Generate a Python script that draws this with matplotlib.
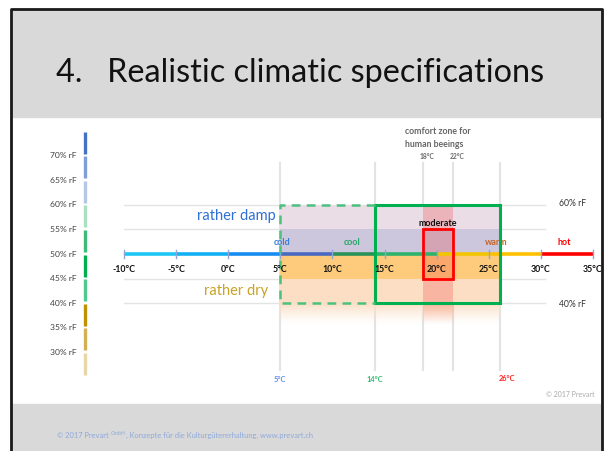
import numpy as np
import matplotlib
matplotlib.use("Agg")
import matplotlib.pyplot as plt
from matplotlib.patches import Rectangle
from matplotlib.colors import to_rgba

plt.rcParams['font.family'] = ['Lato', 'DejaVu Sans']

# temperature scale (deg C) and its coloured segments
temp_ticks = [-10, -5, 0, 5, 10, 15, 20, 25, 30, 35]
seg_edges = [-10, -5, 0, 5, 10, 14, 20, 25, 30, 35]
seg_colors = ['#1EC6F5', '#12B0F2', '#178CF0', '#4A6AC2', '#2A9158',
              '#2DB36B', '#F2C500', '#FFC000', '#FF0000']

# category labels on the temperature line
cat_names = ['cold', 'cool', 'warm', 'hot']
cat_x = [5.2, 11.9, 25.7, 32.2]
cat_colors = ['#3A7FD5', '#2CA56A', '#C8642A', '#FF0000']

# relative humidity legend (% rF)
rh_labels = [70, 65, 60, 55, 50, 45, 40, 35, 30]
rh_seg_low = [70, 65, 60, 55, 50, 45, 40, 35, 30, 25]
rh_seg_colors = ['#4472C4', '#7F9ED8', '#B4C7E7', '#A8E0C0', '#3DBB78',
                 '#00B050', '#52C98C', '#BF9000', '#D4B055', '#E9D6A6']

# zones
zone_t = [5, 26]               # shaded area
green_t = [14.1, 26.1]         # comfort (solid green)
dashed_t = [5, 14.1]           # extension (dashed green)
zone_rh = [40, 60]
moderate_t = [18.7, 21.6]      # drawn position of 18 / 22 degC
moderate_rh = [45, 55]
band_low = [55, 50, 45, 40]
band_colors = ['#EADDE6', '#CCC7DD', '#FDCB7B', '#FBDEC3']
grid_rh = [60, 55, 45, 40]
vlines_t = [5, 14.1, 18.7, 21.6, 26.1]

fig = plt.figure(figsize=(6.05, 4.51), dpi=100)
ax = fig.add_axes([0, 0, 1, 1])
ax.set_xlim(-21.898, 36.151)
ax.set_ylim(9.96, 101.63)
ax.axis('off')

W, H = 605, 451
def fx(x):
    return x / W
def fy(y):
    return 1 - y / H

# slide frame
ax.add_patch(Rectangle((fx(11), fy(117)), fx(602) - fx(11), fy(9) - fy(117),
                       transform=ax.transAxes, color='#D9D9D9', zorder=0))
ax.add_patch(Rectangle((fx(11), fy(451)), fx(602) - fx(11), fy(404) - fy(451),
                       transform=ax.transAxes, color='#D9D9D9', zorder=0))
ax.plot([fx(11), fx(11), fx(602), fx(602)], [fy(451), fy(9), fy(9), fy(451)],
        transform=ax.transAxes, color='#1A1A1A', lw=2, zorder=1)

ax.text(fx(56), fy(73), '4.   Realistic climatic specifications', transform=ax.transAxes,
        fontsize=23.3, fontweight='normal', color='#111111', va='center', ha='left')

t1 = ax.text(fx(57), fy(436), '\u00a9 2017 Prevart ', transform=ax.transAxes,
             fontsize=5.4, color='#8EA9DB', va='center')
t2 = ax.annotate('GmbH', xy=(1, 0.8), xycoords=t1, fontsize=3.7, color='#8EA9DB',
                 va='center', ha='left')
ax.annotate(', Konzepte f\u00fcr die Kulturg\u00fctererhaltung, www.prevart.ch',
            xy=(1, 0.5), xycoords=t2, xytext=(0, -1.2), textcoords='offset points',
            fontsize=5.4, color='#8EA9DB', va='center', ha='left')

# grid lines
for r in grid_rh:
    ax.plot([-10, 30.4], [r, r], color='#E3E3E3', lw=1, zorder=1)
for t in vlines_t:
    ax.plot([t, t], [26.4, 68.5], color='#E3E3E3', lw=1.5, zorder=1)

# shaded bands
for lo, c in zip(band_low, band_colors):
    ax.add_patch(Rectangle((zone_t[0], lo), zone_t[1] - zone_t[0], 5, color=c, lw=0, zorder=2))
ax.add_patch(Rectangle((moderate_t[0], zone_rh[0]), moderate_t[1] - moderate_t[0],
                       zone_rh[1] - zone_rh[0], color='#F03C3C', alpha=0.25, lw=0, zorder=2.5))

# fade below 40 % rF
fade = np.zeros((60, 1, 4))
fade[:, 0, :3] = to_rgba('#FBDEC3')[:3]
fade[:, 0, 3] = np.linspace(1, 0, 60) ** 1.3
ax.imshow(fade, extent=(zone_t[0], zone_t[1], 35.5, 40), aspect='auto',
          origin='upper', zorder=2, interpolation='bilinear')
fade2 = np.zeros((60, 1, 4))
fade2[:, 0, :3] = to_rgba('#F9B59C')[:3]
fade2[:, 0, 3] = np.linspace(1, 0, 60) ** 1.3
ax.imshow(fade2, extent=(moderate_t[0], moderate_t[1], 35.5, 40), aspect='auto',
          origin='upper', zorder=2.6, interpolation='bilinear')

# temperature line
for a, b, c in zip(seg_edges[:-1], seg_edges[1:], seg_colors):
    ax.plot([a, b], [50, 50], color=c, lw=2.6, solid_capstyle='butt', zorder=4)
for t in temp_ticks:
    ax.plot([t, t], [49.2, 50.8], color='#8FA6D6', lw=1, zorder=4.5)
    ax.text(t, 46.75, f'{t}\u00b0C', ha='center', va='center', fontsize=6.3,
            fontweight='bold', color='#111111', zorder=6)
for n, x, c in zip(cat_names, cat_x, cat_colors):
    ax.text(x, 52.4, n, ha='center', va='center', fontsize=6.5,
            fontweight='bold', color=c, zorder=4)

# boxes
ax.add_patch(Rectangle((green_t[0], zone_rh[0]), green_t[1] - green_t[0],
                       zone_rh[1] - zone_rh[0], fill=False, ec='#00B050', lw=2.2, zorder=5))
ax.plot([dashed_t[1], dashed_t[0], dashed_t[0], dashed_t[1]],
        [zone_rh[1], zone_rh[1], zone_rh[0], zone_rh[0]],
        color='#4CC17F', lw=1.8, dashes=(3.5, 2.5), zorder=5)
ax.add_patch(Rectangle((moderate_t[0], moderate_rh[0]), moderate_t[1] - moderate_t[0],
                       moderate_rh[1] - moderate_rh[0], fill=False, ec='#FF0000', lw=2, zorder=5.5))
ax.text(20.1, 56.3, 'moderate', ha='center', va='center', fontsize=6.5,
        fontweight='bold', color='#111111', zorder=6)

ax.text(0.75, 57.7, 'rather damp', ha='center', va='center', fontsize=10.5, color='#2F6FD6')
ax.text(0.75, 42.5, 'rather dry', ha='center', va='center', fontsize=10.5, color='#C9A227')

ax.text(32.99, 60.2, '60% rF', ha='center', va='center', fontsize=6.2, color='#333333')
ax.text(32.99, 39.8, '40% rF', ha='center', va='center', fontsize=6.2, color='#333333')

# comfort zone header
ax.text(16.96, 74.8, 'comfort zone for', ha='left', va='center', fontsize=6.3,
        fontweight='bold', color='#666666')
ax.text(16.96, 72.2, 'human beeings', ha='left', va='center', fontsize=6.3,
        fontweight='bold', color='#666666')
ax.text(19.07, 69.9, '18\u00b0C', ha='center', va='center', fontsize=4.8,
        fontweight='bold', color='#666666')
ax.text(21.95, 69.9, '22\u00b0C', ha='center', va='center', fontsize=4.8,
        fontweight='bold', color='#666666')

# bottom markers
ax.text(4.97, 24.4, '5\u00b0C', ha='center', va='center', fontsize=5.3,
        fontweight='bold', color='#5B8DEF')
ax.text(14.08, 24.4, '14\u00b0C', ha='center', va='center', fontsize=5.3,
        fontweight='bold', color='#2DBE6C')
ax.text(26.75, 24.6, '26\u00b0C', ha='center', va='center', fontsize=5.3,
        fontweight='bold', color='#FF2020')
ax.text(32.8, 21.5, '\u00a9 2017 Prevart', ha='center', va='center', fontsize=5, color='#AAAAAA')

# humidity legend
for lo, c in zip(rh_seg_low, rh_seg_colors):
    ax.plot([-13.74, -13.74], [lo + 0.4, lo + 4.9], color=c, lw=2.4,
            solid_capstyle='butt', zorder=3)
for r in rh_labels:
    ax.text(-15.8, r, f'{r}% rF', ha='center', va='center', fontsize=6.1, color='#404040')

ax.set_xlim(-21.898, 36.151)
ax.set_ylim(9.96, 101.63)
fig.savefig('out.png', dpi=100)
